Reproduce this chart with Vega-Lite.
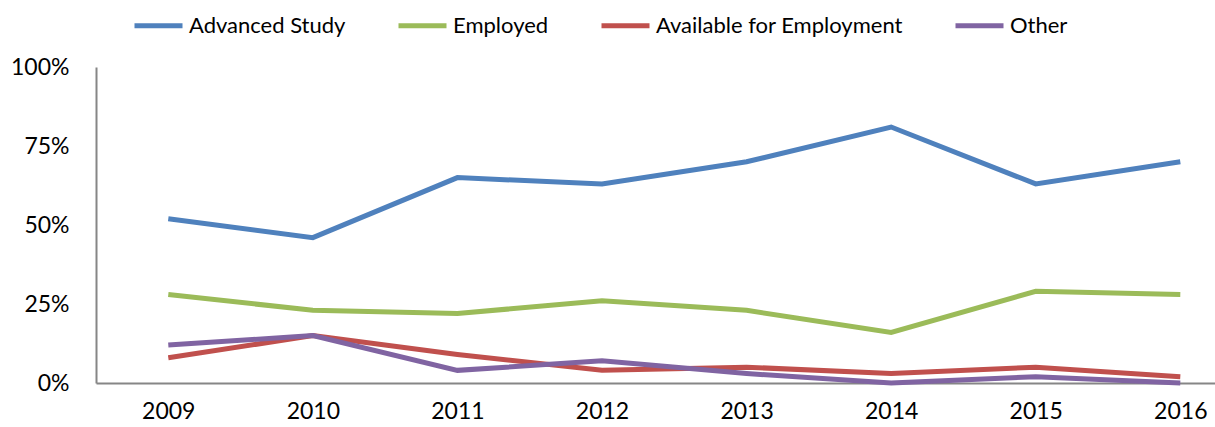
{
  "$schema": "https://vega.github.io/schema/vega-lite/v6.json",
  "width": 1119,
  "height": 316,
  "autosize": {"type": "none"},
  "padding": {"left": 96, "top": 67, "right": 0, "bottom": 44},
  "background": "white",
  "config": {"view": {"stroke": null}, "font": "Lato"},
  "data": {"values": [
    {"year": 2009, "series": "Advanced Study", "value": 0.52},
    {"year": 2010, "series": "Advanced Study", "value": 0.46},
    {"year": 2011, "series": "Advanced Study", "value": 0.65},
    {"year": 2012, "series": "Advanced Study", "value": 0.63},
    {"year": 2013, "series": "Advanced Study", "value": 0.70},
    {"year": 2014, "series": "Advanced Study", "value": 0.81},
    {"year": 2015, "series": "Advanced Study", "value": 0.63},
    {"year": 2016, "series": "Advanced Study", "value": 0.70},
    {"year": 2009, "series": "Employed", "value": 0.28},
    {"year": 2010, "series": "Employed", "value": 0.23},
    {"year": 2011, "series": "Employed", "value": 0.22},
    {"year": 2012, "series": "Employed", "value": 0.26},
    {"year": 2013, "series": "Employed", "value": 0.23},
    {"year": 2014, "series": "Employed", "value": 0.16},
    {"year": 2015, "series": "Employed", "value": 0.29},
    {"year": 2016, "series": "Employed", "value": 0.28},
    {"year": 2009, "series": "Available for Employment", "value": 0.08},
    {"year": 2010, "series": "Available for Employment", "value": 0.15},
    {"year": 2011, "series": "Available for Employment", "value": 0.09},
    {"year": 2012, "series": "Available for Employment", "value": 0.04},
    {"year": 2013, "series": "Available for Employment", "value": 0.05},
    {"year": 2014, "series": "Available for Employment", "value": 0.03},
    {"year": 2015, "series": "Available for Employment", "value": 0.05},
    {"year": 2016, "series": "Available for Employment", "value": 0.02},
    {"year": 2009, "series": "Other", "value": 0.12},
    {"year": 2010, "series": "Other", "value": 0.15},
    {"year": 2011, "series": "Other", "value": 0.04},
    {"year": 2012, "series": "Other", "value": 0.07},
    {"year": 2013, "series": "Other", "value": 0.03},
    {"year": 2014, "series": "Other", "value": 0.0},
    {"year": 2015, "series": "Other", "value": 0.02},
    {"year": 2016, "series": "Other", "value": 0.0}
  ]},
  "mark": {"type": "line", "strokeWidth": 5, "clip": false},
  "encoding": {
    "x": {
      "field": "year", "type": "quantitative",
      "scale": {"domain": [2008.5, 2016.24], "nice": false, "zero": false},
      "axis": {
        "title": null, "values": [2009, 2010, 2011, 2012, 2013, 2014, 2015, 2016],
        "format": "d", "grid": false, "ticks": false,
        "domainColor": "#868686", "domainWidth": 2,
        "labelFontSize": 23, "labelColor": "#000000", "labelPadding": 17,
        "labelFlush": false
      }
    },
    "y": {
      "field": "value", "type": "quantitative",
      "scale": {"domain": [0, 1], "nice": false},
      "axis": {
        "title": null, "values": [0, 0.25, 0.5, 0.75, 1], "format": ".0%",
        "grid": false, "ticks": false,
        "domainColor": "#868686", "domainWidth": 2,
        "labelFontSize": 23, "labelColor": "#000000", "labelPadding": 27
      }
    },
    "color": {
      "field": "series", "type": "nominal",
      "scale": {
        "domain": ["Advanced Study", "Employed", "Available for Employment", "Other"],
        "range": ["#4F81BD", "#9BBB59", "#C0504D", "#8064A2"]
      },
      "legend": {
        "title": null, "orient": "none", "direction": "horizontal",
        "legendX": 36, "legendY": -68,
        "symbolType": "stroke", "symbolSize": 2304, "symbolStrokeWidth": 5,
        "labelFontSize": 22, "labelColor": "#000000", "labelOffset": 4,
        "labelLimit": 400, "columnPadding": 42
      }
    }
  }
}
